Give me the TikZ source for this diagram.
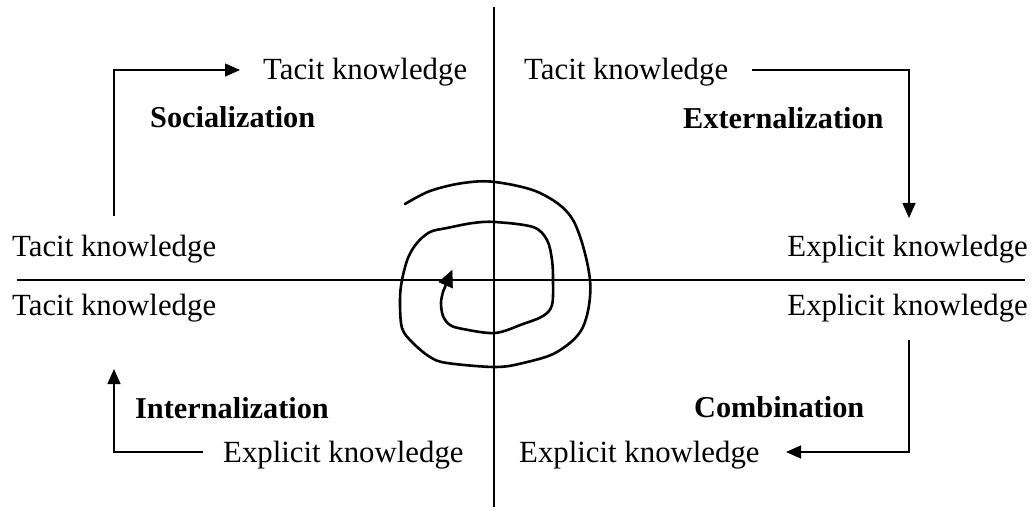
\documentclass[tikz,border=0pt]{standalone}
\usepackage{fontspec}
\setmainfont{Liberation Serif}
\usetikzlibrary{arrows.meta}
\tikzset{
  lbl/.style={inner sep=0pt, font=\fontsize{30.8}{34}\selectfont},
  phase/.style={inner sep=0pt, font=\fontsize{30.3}{34}\selectfont\bfseries},
  axis/.style={line width=1.3pt},
  conn/.style={line width=1.3pt},
  tip/.style={-{Triangle[length=15pt,width=13pt]}},
  spiral/.style={line width=2.6pt, line cap=round, line join=round},
  sphead/.style={fill=black, draw=black, line width=0.6pt, line join=miter}
}
\begin{document}
\begin{tikzpicture}[x=1pt,y=-1pt]
\useasboundingbox (0,0) rectangle (1032,510);
% axes
\coordinate (vT) at (494,7);
\coordinate (vB) at (494,507);
\coordinate (hL) at (17,280);
\coordinate (hR) at (1025,280);
\draw[axis] (vT) -- (vB);
\draw[axis] (hL) -- (hR);
% texts
\node[lbl, anchor=base west] (tTL) at (263,80) {Tacit knowledge};
\node[lbl, anchor=base west] (tTR) at (524,80) {Tacit knowledge};
\node[lbl, anchor=base west] (tML) at (12,257) {Tacit knowledge};
\node[lbl, anchor=base west] (tLL) at (12,315) {Tacit knowledge};
\node[lbl, anchor=base east] (eMR) at (1028,257) {Explicit knowledge};
\node[lbl, anchor=base east] (eLR) at (1028,315) {Explicit knowledge};
\node[lbl, anchor=base west] (eBL) at (223,462) {Explicit knowledge};
\node[lbl, anchor=base west] (eBR) at (519,462) {Explicit knowledge};
\node[phase, anchor=base west] (soc) at (150,128) {Socialization};
\node[phase, anchor=base west] (ext) at (683,129) {Externalization};
\node[phase, anchor=base west] (int) at (135,418) {Internalization};
\node[phase, anchor=base west] (com) at (694,417) {Combination};
% connectors
\coordinate (s1) at (114,216);
\coordinate (s2) at (240,70);
\draw[conn, tip] (s1) |- (s2);
\coordinate (x1) at (752,70);
\coordinate (x2) at (909,218);
\draw[conn, tip] (x1) -| (x2);
\coordinate (c1) at (909,340);
\coordinate (c2) at (786,452);
\draw[conn, tip] (c1) |- (c2);
\coordinate (i1) at (203,452);
\coordinate (i2) at (114,369);
\draw[conn, tip] (i1) -| (i2);
% spiral
\draw[spiral] plot[smooth, tension=0.55] coordinates {
 (405,204) (430,191) (463,183) (495,182) (540,193) (573,220) (590,280)
 (583,327) (557,352) (523,363) (495,367) (447,363) (430,357) (413,343)
 (402,328) (400,300) (402,280) (408,258) (417,243) (430,232) (447,228)
 (473,223) (495,222) (533,227) (547,240) (552,260) (553,280) (552,305)
 (543,316) (523,324) (495,333) (463,329) (450,325) (443,316) (441,303)
 (443,292) (446,285)};
\filldraw[sphead] (452,270.5) -- (439,282) -- (452.5,288) -- cycle;
\end{tikzpicture}
\end{document}
